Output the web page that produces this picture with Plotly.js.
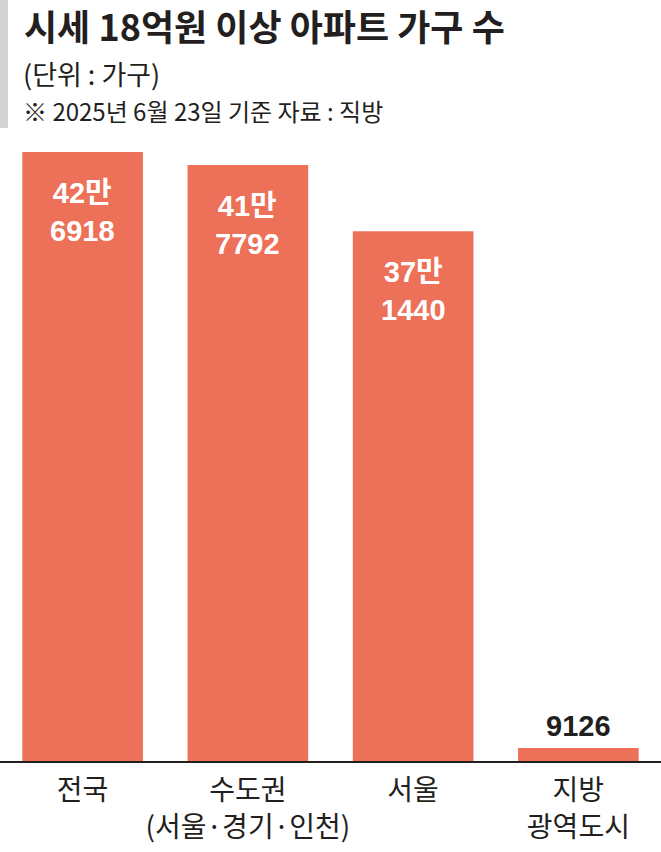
<!DOCTYPE html>
<html>
<head>
<meta charset="utf-8">
<script src="https://cdn.plot.ly/plotly-3.0.1.min.js"></script>
<style>
  html, body { margin: 0; padding: 0; background: #fff; }
  #chart { width: 661px; height: 852px; }
</style>
</head>
<body>
<div id="chart"></div>
<script>
// 시세 18억원 이상 아파트 가구 수 (2025.6.23 기준, 직방)
const categories = ['전국', '수도권', '서울', '지방 광역도시'];
const tickLabels = ['전국', '수도권<br>(서울·경기·인천)', '서울', '지방<br>광역도시'];
const households = [426918, 417792, 371440, 9126];

const BAR_COLOR = '#ed7058';
const INK = '#231f20';
const KR = '"Noto Sans CJK KR", "Noto Sans", sans-serif';
const NUM = '"Liberation Sans", "Noto Sans CJK KR", sans-serif';

// plot area in pixels: top 152, bottom 761 -> paper y for a pixel row
const PLOT_TOP = 152, PLOT_BOTTOM = 761;
const py = (px) => (PLOT_BOTTOM - px) / (PLOT_BOTTOM - PLOT_TOP);

// 426918 -> "42만<br>6918", 9126 -> "9126"
function labelFor(v) {
    const man = Math.floor(v / 10000);
    const rest = v % 10000;
    return man > 0 ? man + '만<br>' + rest : String(rest);
}

const maxVal = Math.max(...households);

const valueLabels = households.map((v, i) => {
    const inside = v > maxVal * 0.1;
    return {
        x: categories[i],
        y: v,
        xref: 'x',
        yref: 'y',
        text: labelFor(v),
        showarrow: false,
        xanchor: 'center',
        yanchor: inside ? 'top' : 'bottom',
        yshift: inside ? -23 : 4,
        font: { family: NUM, size: 29, color: inside ? '#ffffff' : INK, weight: 'bold' }
    };
});

const trace = {
    type: 'bar',
    x: categories,
    y: households,
    marker: { color: BAR_COLOR, line: { width: 0 } },
    hoverinfo: 'skip'
};

const layout = {
    width: 661,
    height: 852,
    margin: { l: 0, r: 0, t: PLOT_TOP, b: 852 - PLOT_BOTTOM, pad: 0 },
    paper_bgcolor: '#ffffff',
    plot_bgcolor: '#ffffff',
    showlegend: false,
    bargap: 0.27,
    annotations: [
        {
            text: '<b>시세 18억원 이상 아파트 가구 수</b>',
            xref: 'paper', yref: 'paper',
            x: 22 / 661, y: py(25),
            xanchor: 'left', yanchor: 'middle',
            showarrow: false,
            font: { family: KR, size: 36, color: INK }
        },
        {
            text: '(단위 : 가구)',
            xref: 'paper', yref: 'paper',
            x: 21 / 661, y: py(73),
            xanchor: 'left', yanchor: 'middle',
            showarrow: false,
            font: { family: KR, size: 27, color: INK }
        },
        {
            text: '※ 2025년 6월 23일 기준 자료 : 직방',
            xref: 'paper', yref: 'paper',
            x: 21 / 661, y: py(110),
            xanchor: 'left', yanchor: 'middle',
            showarrow: false,
            font: { family: KR, size: 24, color: INK }
        }
    ].concat(valueLabels),
    xaxis: {
        type: 'category',
        range: [-0.5, 3.5],
        tickvals: categories,
        ticktext: tickLabels,
        ticks: '',
        ticklabelstandoff: 4,
        showline: true,
        linecolor: INK,
        linewidth: 1.5,
        showgrid: false,
        zeroline: false,
        tickfont: { family: KR, size: 28, color: INK },
        fixedrange: true
    },
    yaxis: {
        range: [0, maxVal],
        visible: false,
        showgrid: false,
        zeroline: false,
        fixedrange: true
    },
    shapes: [
        // grey marker bar at top-left edge
        {
            type: 'rect', xref: 'paper', yref: 'paper',
            x0: 0, x1: 8 / 661, y0: py(128), y1: py(-5),
            fillcolor: '#d1d3d4', line: { width: 0 }
        }
    ]
};

Plotly.newPlot('chart', [trace], layout, { displayModeBar: false, staticPlot: true });
</script>
</body>
</html>
